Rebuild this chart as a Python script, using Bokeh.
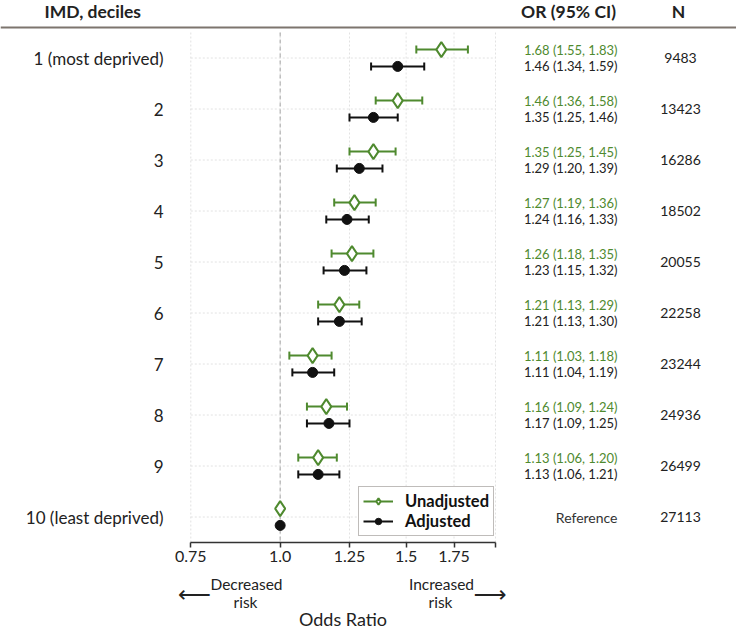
import math
from bokeh.plotting import figure
from bokeh.models import (Range1d, FixedTicker, ColumnDataSource, LogAxis, LogScale,
                          Legend, LegendItem)
from bokeh.layouts import column
from bokeh.embed import file_html
from bokeh.resources import INLINE
from bokeh.core.properties import value

# ---------------- data ----------------
categories = ["1 (most deprived)", "2", "3", "4", "5", "6", "7", "8", "9",
              "10 (least deprived)"]
unadj_or = [1.68, 1.46, 1.35, 1.27, 1.26, 1.21, 1.11, 1.16, 1.13, 1.00]
unadj_lo = [1.55, 1.36, 1.25, 1.19, 1.18, 1.13, 1.03, 1.09, 1.06, None]
unadj_hi = [1.83, 1.58, 1.45, 1.36, 1.35, 1.29, 1.18, 1.24, 1.20, None]
adj_or = [1.46, 1.35, 1.29, 1.24, 1.23, 1.21, 1.11, 1.17, 1.13, 1.00]
adj_lo = [1.34, 1.25, 1.20, 1.16, 1.15, 1.13, 1.04, 1.09, 1.06, None]
adj_hi = [1.59, 1.46, 1.39, 1.33, 1.32, 1.30, 1.19, 1.25, 1.21, None]
n_obs = [9483, 13423, 16286, 18502, 20055, 22258, 23244, 24936, 26499, 27113]
x_ticks = [0.75, 1.0, 1.25, 1.5, 1.75, 2.0]
x_tick_labels = ["0.75", "1.0", "1.25", "1.5", "1.75", ""]
headers = ["IMD, deciles", "OR (95% CI)", "N"]
legend_labels = ["Unadjusted", "Adjusted"]
reference_text = "Reference"
x_title = "Odds Ratio"
notes = ["Decreased", "risk", "Increased", "risk"]
arrows = ["\u27f5", "\u27f6"]

# ---------------- layout / style constants ----------------
FONT = "Lato"
GREEN = "#4f8a2f"
BLACK = "#111111"
TXT = "#222222"
W = 736
TOP_H = 542            # main frame height (axis line at y = 542)
AXIS_H = 34            # x-axis panel
BOT_H = 628 - TOP_H - AXIS_H
ROW_PX = 51.0
ROW1_PX = 57.5         # first row centre below top of frame
OFF = 0.165            # unadjusted / adjusted offset (rows)
X0_PX, X1_PX = 190.3, 495.0   # pixel positions of OR = 0.75 and OR = 2.0
OR_LO, OR_HI = 0.75, 2.0

k = (X1_PX - X0_PX) / math.log(OR_HI / OR_LO)
or_range = Range1d(OR_LO * math.exp(-X0_PX / k), OR_HI * math.exp((W - X1_PX) / k))
y_top = 1 - ROW1_PX / ROW_PX
y_bot = y_top + TOP_H / ROW_PX


def py(px):
    """frame pixel (from top) -> row units"""
    return y_top + px / ROW_PX


nan = float("nan")
rows = list(range(1, len(categories) + 1))


def clean(v):
    return nan if v is None else v


def fmt(o, l, h):
    return "" if l is None else f"{o:.2f} ({l:.2f}, {h:.2f})"


src_un = ColumnDataSource(dict(
    y=[r - OFF for r in rows], est=unadj_or,
    lo=[clean(v) for v in unadj_lo], hi=[clean(v) for v in unadj_hi],
    txt=[fmt(o, l, h) for o, l, h in zip(unadj_or, unadj_lo, unadj_hi)]))
src_ad = ColumnDataSource(dict(
    y=[r + OFF for r in rows], est=adj_or,
    lo=[clean(v) for v in adj_lo], hi=[clean(v) for v in adj_hi],
    txt=[fmt(o, l, h) for o, l, h in zip(adj_or, adj_lo, adj_hi)]))
src_rows = ColumnDataSource(dict(y=rows, cat=categories,
                                 n=[str(n) for n in n_obs],
                                 ref=["" if l is not None else reference_text
                                      for l in adj_lo]))

# ---------------- main figure ----------------
p = figure(width=W, height=TOP_H + AXIS_H, x_range=Range1d(0, W),
           y_range=Range1d(y_bot, y_top), output_backend="svg",
           toolbar_location=None, x_axis_location=None, y_axis_location=None,
           min_border_left=0, min_border_right=0, min_border_top=0,
           min_border_bottom=AXIS_H,
           extra_x_ranges={"or": or_range}, extra_x_scales={"or": LogScale()})
p.grid.visible = False
p.outline_line_color = None
p.background_fill_color = "white"
p.border_fill_color = "white"

xt = FixedTicker(ticks=x_ticks)
ax = LogAxis(x_range_name="or", ticker=xt, bounds=(OR_LO, OR_HI))
ax.major_label_overrides = dict(zip(x_ticks, x_tick_labels))
ax.minor_tick_line_color = None
ax.major_tick_in = 0
ax.major_tick_out = 5
ax.major_label_standoff = 3
ax.axis_line_color = "#333333"
ax.axis_line_width = 1.5
ax.major_tick_line_color = "#333333"
ax.major_tick_line_width = 1.5
ax.major_label_text_font = FONT
ax.major_label_text_font_size = "16px"
ax.major_label_text_color = TXT
p.add_layout(ax, "below")

# header
hsrc = ColumnDataSource(dict(x=[44, 568, 678], text=headers,
                             align=["left", "center", "center"]))
p.text(x="x", y=py(11), text="text", source=hsrc, text_align="align",
       text_baseline="middle", text_font=value(FONT), text_font_style="bold",
       text_font_size="17.5px", text_color=TXT)
p.hspan(y=[py(26.5)], line_color="#7d756e", line_width=1.8)

# grid
grid_top = py(32)
p.segment(x0=x_ticks, x1=x_ticks, y0=[grid_top] * len(x_ticks),
          y1=[y_bot] * len(x_ticks), x_range_name="or",
          line_color="#e2e2e2", line_dash="2 2", line_width=1)
p.segment(x0=[OR_LO] * len(rows), x1=[OR_HI] * len(rows), y0=rows, y1=rows,
          x_range_name="or", line_color="#e2e2e2", line_dash="2 2", line_width=1)
p.segment(x0=[1.0], x1=[1.0], y0=[grid_top], y1=[y_bot], x_range_name="or",
          line_color="#a5a5a5", line_dash="4 3", line_width=1)

# error bars + markers
seg_un = p.segment(x0="lo", x1="hi", y0="y", y1="y", source=src_un,
                   x_range_name="or", line_color=GREEN, line_width=2)
for c in ("lo", "hi"):
    p.scatter(x=c, y="y", source=src_un, x_range_name="or", marker="dash",
              angle=math.pi / 2, size=8, line_color=GREEN, line_width=2)
mk_un = p.scatter(x="est", y="y", source=src_un, x_range_name="or",
                  marker="diamond", size=15, fill_color="white",
                  line_color=GREEN, line_width=2)

seg_ad = p.segment(x0="lo", x1="hi", y0="y", y1="y", source=src_ad,
                   x_range_name="or", line_color=BLACK, line_width=2)
for c in ("lo", "hi"):
    p.scatter(x=c, y="y", source=src_ad, x_range_name="or", marker="dash",
              angle=math.pi / 2, size=8, line_color=BLACK, line_width=2)
mk_ad = p.scatter(x="est", y="y", source=src_ad, x_range_name="or",
                  marker="circle", size=10, fill_color=BLACK, line_color=BLACK)

# text columns
p.text(x=163, y="y", text="cat", source=src_rows, text_align="right",
       text_baseline="middle", text_font=value(FONT), text_font_size="17px",
       text_color=TXT)
p.text(x=617, y="y", text="txt", source=src_un, text_align="right",
       text_baseline="middle", text_font=value(FONT), text_font_size="13px",
       text_color=GREEN)
p.text(x=617, y="y", text="txt", source=src_ad, text_align="right",
       text_baseline="middle", text_font=value(FONT), text_font_size="13px",
       text_color=TXT)
p.text(x=617, y="y", text="ref", source=src_rows, text_align="right",
       text_baseline="middle", text_font=value(FONT), text_font_size="14px",
       text_color="#333333")
p.text(x=680, y="y", text="n", source=src_rows, text_align="center",
       text_baseline="middle", text_font=value(FONT), text_font_size="14px",
       text_color=TXT)

legend = Legend(items=[LegendItem(label=legend_labels[0], renderers=[seg_un, mk_un]),
                       LegendItem(label=legend_labels[1], renderers=[seg_ad, mk_ad])],
                location=(358, 6))
legend.label_text_font = FONT
legend.label_text_font_style = "bold"
legend.label_text_font_size = "16.5px"
legend.label_text_color = BLACK
legend.glyph_width = 30
legend.glyph_height = 16
legend.label_height = 16
legend.spacing = 0
legend.padding = 4
legend.margin = 0
legend.label_standoff = 12
legend.border_line_color = "#7f7a75"
legend.border_line_width = 1.5
legend.background_fill_color = "white"
legend.background_fill_alpha = 1
p.add_layout(legend)

# ---------------- bottom notes figure ----------------
b = figure(width=W, height=BOT_H, x_range=Range1d(0, W), y_range=Range1d(BOT_H, 0),
           output_backend="svg", toolbar_location=None, x_axis_location=None,
           y_axis_location=None, min_border=0, outline_line_color=None)
b.grid.visible = False
b.background_fill_color = "white"
b.border_fill_color = "white"
B0 = TOP_H + AXIS_H
nsrc = ColumnDataSource(dict(x=[246, 245, 441, 440],
                             y=[583 - B0, 601 - B0, 583 - B0, 601 - B0], text=notes))
b.text(x="x", y="y", text="text", source=nsrc, text_align="center",
       text_baseline="middle", text_font=value(FONT), text_font_size="15.5px",
       text_color=TXT)
asrc = ColumnDataSource(dict(x=[194, 489.5], y=[593 - B0, 593 - B0], text=arrows))
b.text(x="x", y="y", text="text", source=asrc, text_align="center",
       text_baseline="middle", text_font=value("DejaVu Sans"),
       text_font_size="23px", text_color=TXT)
b.text(x=[342.5], y=[618 - B0], text=[x_title], text_align="center",
       text_baseline="middle", text_font=value(FONT), text_font_size="18px",
       text_color=TXT)

layout = column(p, b)
open("out.html", "w").write(file_html(layout, INLINE))
